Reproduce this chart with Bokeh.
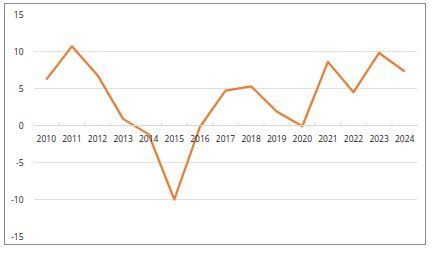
from bokeh.plotting import figure
from bokeh.models import Range1d, FixedTicker, Span, ColumnDataSource
from bokeh.core.properties import value
from bokeh.embed import file_html
from bokeh.resources import INLINE

years = ["2010", "2011", "2012", "2013", "2014", "2015", "2016", "2017",
         "2018", "2019", "2020", "2021", "2022", "2023", "2024"]
growth = [6.2, 10.7, 6.8, 0.9, -1.2, -10.0, -0.2, 4.7, 5.3, 1.9, -0.1, 8.6, 4.5, 9.8, 7.3]
y_ticks = [-15, -10, -5, 0, 5, 10, 15]

FONT = "Open Sans"

p = figure(x_range=years, y_range=Range1d(-15, 15), width=422, height=242,
           output_backend="svg", toolbar_location=None,
           min_border_left=28, min_border_right=10, min_border_top=10, min_border_bottom=10,
           margin=(3, 0, 0, 4))
p.styles = {"border": "1px solid #8c8c8c"}
p.outline_line_color = None
p.background_fill_color = "white"
p.border_fill_color = "white"

p.xaxis.visible = False
p.yaxis.visible = False
p.xgrid.grid_line_color = None
p.ygrid.ticker = FixedTicker(ticks=y_ticks)
p.ygrid.grid_line_color = "#dde3e3"
p.ygrid.grid_line_width = 1

# zero axis line
p.add_layout(Span(location=0, dimension="width", line_color="#d9d9d9", line_width=1))

# category boundary ticks
bounds = [[y, -0.5] for y in years] + [[years[-1], 0.5]]
p.segment(x0=bounds, y0=[0] * len(bounds), x1=bounds, y1=[0.4] * len(bounds),
          line_color="#d9d9d9", line_width=1)

src = ColumnDataSource(dict(x=years, y=growth, z=[0] * len(years)))
p.line("x", "y", source=src, line_color="#ED7D31", line_width=2.25, line_join="round")

# x category labels along zero line
p.text(x="x", y="z", text="x", source=src, text_align="center", text_baseline="middle",
       y_offset=13, text_font=value(FONT), text_font_size="8.5px", text_color="#1a1a1a")

# y value labels left of plot area
ysrc = ColumnDataSource(dict(x=[[years[0], -0.5]] * len(y_ticks), y=y_ticks,
                             t=[str(v) for v in y_ticks]))
p.text(x="x", y="y", text="t", source=ysrc, text_align="right", text_baseline="middle",
       x_offset=-10, text_font=value(FONT), text_font_size="8.5px", text_color="#1a1a1a",
       level="overlay")

open("out.html", "w").write(file_html(p, INLINE))
